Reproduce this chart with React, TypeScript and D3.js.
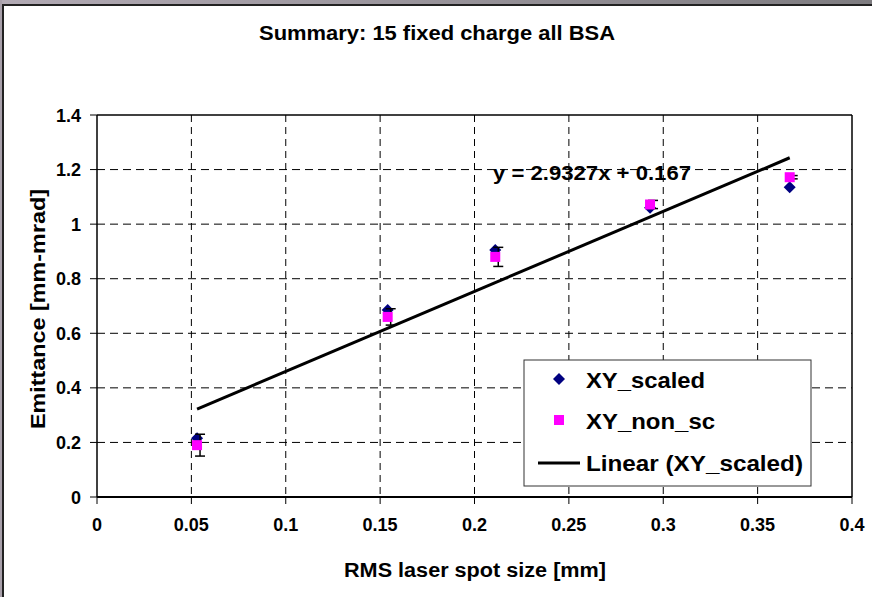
import React from "react";
import * as d3 from "d3";

// Spot size (mm) per measurement
const spotSize = [0.053, 0.154, 0.211, 0.293, 0.367];
// Emittance (mm-mrad)
const xyScaled = [0.215, 0.685, 0.905, 1.06, 1.135];
const xyNonSc = [0.19, 0.66, 0.88, 1.072, 1.172];
// Error half-widths on the non-scaled series
const errNonSc = [0.04, 0.03, 0.035, 0.015, 0.006];

const fitSlope = 2.9327;
const fitIntercept = 0.167;

const xTicks = [0, 0.05, 0.1, 0.15, 0.2, 0.25, 0.3, 0.35, 0.4];
const xTickLabels = ["0", "0.05", "0.1", "0.15", "0.2", "0.25", "0.3", "0.35", "0.4"];
const yTicks = [0, 0.2, 0.4, 0.6, 0.8, 1, 1.2, 1.4];
const yTickLabels = ["0", "0.2", "0.4", "0.6", "0.8", "1", "1.2", "1.4"];

const W = 872;
const H = 597;
const FONT = "'Liberation Sans', Arial, sans-serif";

// diamond marker path, 12 wide x 12 tall
const diamondPath = "M0,-6 L6,0 L0,6 L-6,0 Z";

export default function App() {
  const x = d3.scaleLinear().domain([0, 0.4]).range([97, 852]);
  const y = d3.scaleLinear().domain([0, 1.4]).range([497, 115]);

  const x0 = spotSize[0];
  const x1 = spotSize[spotSize.length - 1];
  const fitLine = d3
    .line<number>()
    .x((d) => x(d))
    .y((d) => y(fitSlope * d + fitIntercept))([x0, x1]) as string;

  return (
    <svg
      width={W}
      height={H}
      style={{ position: "absolute", left: 0, top: 0, display: "block" }}
      fontFamily={FONT}
    >
      <defs>
        <linearGradient id="topBand" x1="0" x2="1" y1="0" y2="0">
          <stop offset="0" stopColor="#b2aab4" />
          <stop offset="1" stopColor="#7e7c80" />
        </linearGradient>
      </defs>
      <rect x={0} y={0} width={W} height={H} fill="#ffffff" />
      {/* window frame */}
      <rect x={0} y={0} width={W} height={4} fill="url(#topBand)" />
      <rect x={0} y={0} width={2} height={H} fill="#a8a0aa" />
      <rect x={2} y={4} width={W - 2} height={2} fill="#222222" />
      <rect x={2} y={4} width={2} height={H - 4} fill="#222222" />

      {/* title */}
      <text
        x={437}
        y={40}
        textAnchor="middle"
        fontSize={20}
        fontWeight="bold"
        textLength={356}
        lengthAdjust="spacingAndGlyphs"
      >
        Summary: 15 fixed charge all BSA
      </text>

      {/* grid */}
      {xTicks.slice(1, -1).map((t) => (
        <line
          key={"gx" + t}
          x1={x(t)}
          x2={x(t)}
          y1={y(1.4)}
          y2={y(0)}
          stroke="#000"
          strokeWidth={1}
          strokeDasharray="7,5"
        />
      ))}
      {yTicks.slice(1, -1).map((t) => (
        <line
          key={"gy" + t}
          x1={x(0)}
          x2={x(0.4)}
          y1={y(t)}
          y2={y(t)}
          stroke="#000"
          strokeWidth={1}
          strokeDasharray="8,5"
        />
      ))}

      {/* plot border */}
      <line x1={x(0)} x2={x(0.4)} y1={y(1.4)} y2={y(1.4)} stroke="#000" strokeWidth={1.5} />
      <line x1={x(0.4)} x2={x(0.4)} y1={y(1.4)} y2={y(0)} stroke="#000" strokeWidth={1.5} />
      <line x1={x(0)} x2={x(0)} y1={y(1.4)} y2={y(0)} stroke="#000" strokeWidth={1.5} />
      <line x1={x(0)} x2={x(0.4)} y1={y(0)} y2={y(0)} stroke="#000" strokeWidth={2} />

      {/* ticks */}
      {xTicks.map((t) => (
        <line key={"tx" + t} x1={x(t)} x2={x(t)} y1={y(0)} y2={y(0) + 7} stroke="#000" strokeWidth={1} />
      ))}
      {yTicks.map((t) => (
        <line key={"ty" + t} x1={x(0) - 7} x2={x(0)} y1={y(t)} y2={y(t)} stroke="#000" strokeWidth={1} />
      ))}

      {/* tick labels */}
      {xTicks.map((t, i) => (
        <text key={"lx" + t} x={x(t)} y={531} textAnchor="middle" fontSize={18} fontWeight="bold">
          {xTickLabels[i]}
        </text>
      ))}
      {yTicks.map((t, i) => (
        <text key={"ly" + t} x={81} y={y(t) + 6.5} textAnchor="end" fontSize={18} fontWeight="bold">
          {yTickLabels[i]}
        </text>
      ))}

      {/* axis titles */}
      <text
        x={475}
        y={577}
        textAnchor="middle"
        fontSize={20}
        fontWeight="bold"
        textLength={262}
        lengthAdjust="spacingAndGlyphs"
      >
        RMS laser spot size [mm]
      </text>
      <text
        transform={`translate(45,${(y(0) + y(1.4)) / 2 + 3}) rotate(-90)`}
        textAnchor="middle"
        fontSize={20}
        fontWeight="bold"
        textLength={240}
        lengthAdjust="spacingAndGlyphs"
      >
        Emittance [mm-mrad]
      </text>

      {/* linear fit */}
      <path d={fitLine} fill="none" stroke="#000" strokeWidth={3} />

      {/* XY_scaled markers */}
      {spotSize.map((s, i) => (
        <path key={"d" + i} d={diamondPath} transform={`translate(${x(s)},${y(xyScaled[i])})`} fill="#000080" />
      ))}

      {/* error bars */}
      {spotSize.map((s, i) => {
        const cx = x(s) + 3;
        const lo = y(xyNonSc[i] - errNonSc[i]);
        const hi = y(xyNonSc[i] + errNonSc[i]);
        return (
          <g key={"e" + i} stroke="#000" strokeWidth={1.5}>
            <line x1={cx} x2={cx} y1={lo} y2={hi} />
            <line x1={cx - 5} x2={cx + 5} y1={lo} y2={lo} />
            <line x1={cx - 5} x2={cx + 5} y1={hi} y2={hi} />
          </g>
        );
      })}

      {/* XY_non_sc markers */}
      {spotSize.map((s, i) => (
        <rect key={"s" + i} x={x(s) - 5} y={y(xyNonSc[i]) - 5} width={10} height={10} fill="#ff00ff" />
      ))}

      {/* fit equation */}
      <text
        x={493}
        y={180}
        fontSize={20}
        fontWeight="bold"
        textLength={198}
        lengthAdjust="spacingAndGlyphs"
      >
        y = 2.9327x + 0.167
      </text>

      {/* legend */}
      <rect x={524} y={360} width={287} height={126} fill="#fff" stroke="#333" strokeWidth={1} />
      <path d={diamondPath} transform="translate(559,379)" fill="#000080" />
      <text x={586} y={388} fontSize={22} fontWeight="bold" textLength={119} lengthAdjust="spacingAndGlyphs">
        XY_scaled
      </text>
      <rect x={554} y={415} width={10} height={10} fill="#ff00ff" />
      <text x={586} y={429} fontSize={22} fontWeight="bold" textLength={129} lengthAdjust="spacingAndGlyphs">
        XY_non_sc
      </text>
      <line x1={538} x2={580} y1={463} y2={463} stroke="#000" strokeWidth={3} />
      <text x={586} y={471} fontSize={22} fontWeight="bold" textLength={217} lengthAdjust="spacingAndGlyphs">
        Linear (XY_scaled)
      </text>
    </svg>
  );
}
